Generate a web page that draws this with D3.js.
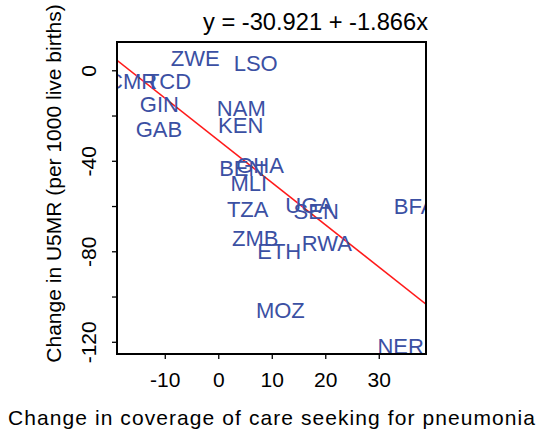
<!DOCTYPE html>
<html>
<head>
<meta charset="utf-8">
<script src="https://cdn.jsdelivr.net/npm/d3@7"></script>
<style>
  html, body { margin: 0; padding: 0; background: #fff; }
  svg { display: block; font-family: "Liberation Sans", Arial, sans-serif; }
</style>
</head>
<body>
<div id="chart"></div>
<script>
// Country codes and their changes (coverage change, U5MR change)
const countries = ["ZWE","LSO","CMR","TCD","GIN","GAB","NAM","KEN","BEN","GHA","MLI","TZA","UGA","SEN","BFA","ZMB","ETH","RWA","MOZ","NER"];
const coverageChange = [-4.3, 7.0, -16.1, -9.3, -11.0, -11.1, 4.3, 4.2, 4.4, 7.8, 5.7, 5.5, 17.0, 18.3, 36.7, 6.9, 11.4, 20.3, 11.6, 34.1];
const u5mrChange = [5.4, 3.1, -5.0, -5.0, -15.1, -25.8, -16.8, -24.2, -43.4, -41.9, -49.8, -61.2, -59.4, -62.3, -60.1, -74.3, -79.8, -76.5, -105.9, -121.9];

// Fitted regression line
const intercept = -30.921;
const slope = -1.866;

const xTicks = [-10, 0, 10, 20, 30];
const yTicks = [0, -20, -40, -60, -80, -100, -120];
const yTickLabels = [0, -40, -80, -120];

const W = 539, H = 440;
const margin = { left: 117, top: 42, right: 113, bottom: 86 };
const iw = W - margin.left - margin.right;
const ih = H - margin.top - margin.bottom;

const x = d3.scaleLinear().domain([-18.93, 38.83]).range([0, iw]);
const y = d3.scaleLinear().domain([12.5, -125.4]).range([0, ih]);

const svg = d3.select("#chart").append("svg")
  .attr("width", W).attr("height", H);

svg.append("defs").append("clipPath").attr("id", "plotclip")
  .append("rect").attr("x", 0).attr("y", 0).attr("width", iw).attr("height", ih);

const g = svg.append("g").attr("transform", `translate(${margin.left},${margin.top})`);

// Axes (plain hyphen for negative numbers)
const xAxis = g.append("g").attr("transform", `translate(0,${ih})`)
  .call(d3.axisBottom(x).tickValues(xTicks).tickSize(5).tickPadding(13).tickFormat(d => String(d)));
const yAxis = g.append("g")
  .call(d3.axisLeft(y).tickValues(yTicks).tickSize(5).tickFormat(d => yTickLabels.includes(d) ? String(d) : ""));

[xAxis, yAxis].forEach(a => {
  a.select(".domain").remove();
  a.selectAll(".tick line").attr("stroke", "#000").attr("stroke-width", 1.3);
  a.selectAll(".tick text").attr("fill", "#000").style("font-size", "21px")
    .style("font-family", "'Liberation Sans', Arial, sans-serif");
});

// Rotated y tick labels
yAxis.selectAll(".tick text")
  .attr("x", null).attr("dy", null)
  .attr("text-anchor", "middle")
  .attr("transform", "translate(-21,0) rotate(-90)")
  .attr("y", 0);

// Regression line and country labels, clipped to the plot area
const plot = g.append("g").attr("clip-path", "url(#plotclip)");

const xd = x.domain();
plot.append("line")
  .attr("x1", x(xd[0])).attr("y1", y(intercept + slope * xd[0]))
  .attr("x2", x(xd[1])).attr("y2", y(intercept + slope * xd[1]))
  .attr("stroke", "#ff1a1a").attr("stroke-width", 1.6);

plot.selectAll("text.ctry")
  .data(countries)
  .join("text")
  .attr("class", "ctry")
  .attr("x", (d, i) => x(coverageChange[i]))
  .attr("y", (d, i) => y(u5mrChange[i]))
  .attr("dy", "0.358em")
  .attr("text-anchor", "middle")
  .attr("fill", "#3b50a3")
  .style("font-size", "22px")
  .text(d => d);

// Plot frame
g.append("rect")
  .attr("x", 0).attr("y", 0).attr("width", iw).attr("height", ih)
  .attr("fill", "none").attr("stroke", "#000").attr("stroke-width", 2);

// Title with fitted equation
svg.append("text")
  .attr("x", 315.5).attr("y", 30)
  .attr("text-anchor", "middle")
  .attr("textLength", 225).attr("lengthAdjust", "spacingAndGlyphs")
  .style("font-size", "24px")
  .text(`y = ${intercept} + ${slope}x`);

// Axis titles
svg.append("text")
  .attr("x", 271.5).attr("y", 425)
  .attr("text-anchor", "middle")
  .attr("textLength", 527).attr("lengthAdjust", "spacing")
  .style("font-size", "21px")
  .text("Change in coverage of care seeking for pneumonia");

svg.append("text")
  .attr("transform", "translate(61,183.5) rotate(-90)")
  .attr("text-anchor", "middle")
  .style("font-size", "21px")
  .text("Change in U5MR (per 1000 live births)");
</script>
</body>
</html>
